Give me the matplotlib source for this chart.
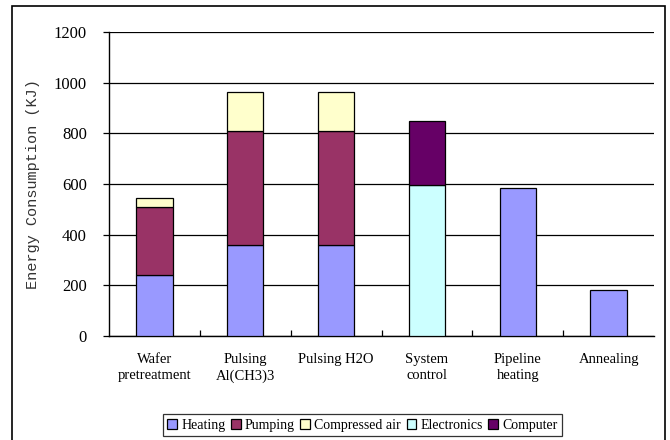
import numpy as np
import matplotlib
matplotlib.use("Agg")
from matplotlib import pyplot as plt
from matplotlib.patches import Rectangle

# process steps and per-source energy use (KJ)
steps = ["Wafer\npretreatment", "Pulsing\nAl(CH3)3", "Pulsing H2O",
         "System\ncontrol", "Pipeline\nheating", "Annealing"]
sources = ["Heating", "Pumping", "Compressed air", "Electronics", "Computer"]
heating = [240, 360, 360, 0, 583, 182]
pumping = [270, 450, 450, 0, 0, 0]
compressed_air = [37, 155, 155, 0, 0, 0]
electronics = [0, 0, 0, 595, 0, 0]
computer = [0, 0, 0, 255, 0, 0]
colors = ["#9999FF", "#993366", "#FFFFCC", "#CCFFFF", "#660066"]
yticks = [0, 200, 400, 600, 800, 1000, 1200]

serif = ["Liberation Serif", "DejaVu Serif"]
plt.rcParams["font.family"] = serif

fig = plt.figure(figsize=(6.7, 4.4), dpi=100)
ax = fig.add_axes([0.1627, 0.236, 0.8135, 0.691])

x = np.arange(len(steps))
bottom = np.zeros(len(steps))
handles = []
for name, vals, col in zip(sources, [heating, pumping, compressed_air, electronics, computer], colors):
    vals = np.array(vals, dtype=float)
    h = ax.bar(x, vals, width=0.4, bottom=bottom, color=col, edgecolor="black",
               linewidth=0.9, zorder=3)
    # hide the empty segments so they don't leave a stray outline
    for rect, v in zip(h.patches, vals):
        if v == 0:
            rect.set_visible(False)
    handles.append(Rectangle((0, 0), 1, 1, facecolor=col, edgecolor="black",
                             linewidth=0.9, label=name))
    bottom += vals

ax.set_xlim(-0.5, len(steps) - 0.5)
ax.set_ylim(0, 1200)
ax.set_yticks(yticks)
ax.set_yticklabels([str(t) for t in yticks], fontsize=12)
ax.yaxis.grid(True, color="black", linewidth=0.9, zorder=0)
ax.tick_params(axis="y", direction="out", length=4, width=0.9, pad=12)

ax.set_xticks(x)
ax.set_xticklabels(steps, fontsize=10.5, linespacing=1.35, va="top")
ax.tick_params(axis="x", length=0, pad=12)
ax.set_xticks(np.arange(len(steps) - 1) + 0.5, minor=True)
ax.tick_params(axis="x", which="minor", direction="in", length=4, width=0.9)

for side in ["top", "right"]:
    ax.spines[side].set_visible(False)
for side in ["left", "bottom"]:
    ax.spines[side].set_linewidth(1.0)

ax.set_ylabel("Energy Consumption (KJ)", fontsize=11, color="#333333",
              family=["Liberation Mono", "DejaVu Sans Mono"], labelpad=10)

leg = fig.legend(handles=handles, loc="center", bbox_to_anchor=(0.541, 0.034),
                 ncol=5, fontsize=10, frameon=True, fancybox=False,
                 handlelength=0.7, handleheight=0.7, handletextpad=0.3,
                 columnspacing=0.4, borderpad=0.3, borderaxespad=0)
leg.get_frame().set_edgecolor("black")
leg.get_frame().set_linewidth(0.9)

# outer chart border
fig.patches.append(Rectangle((0.018, -0.02), 0.975, 1.006, transform=fig.transFigure,
                             fill=False, edgecolor="black", linewidth=1.2))

fig.savefig("out.png", dpi=100)
